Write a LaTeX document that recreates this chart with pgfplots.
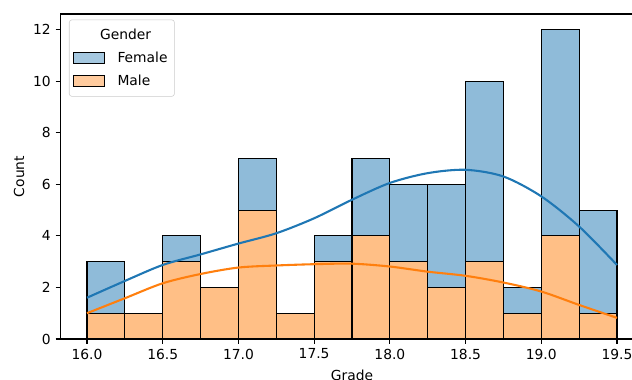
\documentclass[border=0pt]{standalone}
\usepackage{pgfplots}
\pgfplotsset{compat=1.18}
\usepackage{fontspec}
\setmainfont{DejaVu Sans}
\definecolor{fem}{HTML}{8FBBD9}
\definecolor{mal}{HTML}{FFBF86}
\definecolor{femline}{HTML}{1F77B4}
\definecolor{malline}{HTML}{FF7F0E}
\begin{document}
\begin{tikzpicture}
\begin{axis}[name=ax, scale only axis, width=419.76bp, height=234bp,
  xmin=15.825, xmax=19.675, ymin=0, ymax=12.6,
  xtick={16,16.5,17,17.5,18,18.5,19,19.5}, ytick={0,2,4,6,8,10,12},
  xticklabel style={/pgf/number format/.cd, fixed, fixed zerofill, precision=1},
  /pgf/number format/assume math mode=true,
  tick label style={font=\fontsize{10}{12}\selectfont},
  label style={font=\fontsize{10}{12}\selectfont},
  tick pos=left, tick align=outside, major tick length=3.5bp,
  every tick/.style={black, line width=0.8bp},
  axis line style={line width=0.8bp},
  xlabel={Grade}, ylabel={Count},
  every axis x label/.style={at={(axis description cs:0.5,0)}, anchor=north, inner sep=0pt, yshift=-22.3bp},
  every axis y label/.style={at={(axis description cs:-0.0712,0.5)}, anchor=center, rotate=90, inner sep=0pt},
  legend image code/.code={\draw[#1, sharp corners] (0bp,-4bp) rectangle (22bp,4bp); \path (29bp,0bp);},
  legend cell align=left,
  legend style={at={(0,1)}, anchor=north west, xshift=6.1bp, yshift=-4bp,
    draw=black!20, rounded corners=2bp, fill=white, fill opacity=0.8, text opacity=1,
    inner xsep=3bp, inner ysep=4.5bp, row sep=3.5bp,
    font=\fontsize{10}{12}\selectfont},
]
\addlegendimage{empty legend}\addlegendentry{\hspace{-12.5bp}Gender}
\addlegendimage{fill=fem, draw=black, line width=0.75bp}\addlegendentry{Female}
\addlegendimage{fill=mal, draw=black, line width=0.75bp}\addlegendentry{Male}

% total (stack top) -- Female drawn over Male
\addplot[forget plot, ybar, bar width=0.25, bar shift=0pt, fill=fem, draw=black, line width=0.75bp]
 coordinates {(16.125,3) (16.375,1) (16.625,4) (16.875,2) (17.125,7) (17.375,1) (17.625,4)
  (17.875,7) (18.125,6) (18.375,6) (18.625,10) (18.875,2) (19.125,12) (19.375,5)};
% Male
\addplot[forget plot, ybar, bar width=0.25, bar shift=0pt, fill=mal, draw=black, line width=0.75bp]
 coordinates {(16.125,1) (16.375,1) (16.625,3) (16.875,2) (17.125,5) (17.375,1) (17.625,3)
  (17.875,4) (18.125,3) (18.375,2) (18.625,3) (18.875,1) (19.125,4) (19.375,1)};
% KDE Female
\addplot[forget plot, smooth, femline, line width=1.5bp]
 coordinates {(16.0,1.60) (16.25,2.25) (16.5,2.87) (16.75,3.28) (17.0,3.70) (17.25,4.10)
  (17.5,4.68) (17.75,5.40) (18.0,6.05) (18.25,6.43) (18.5,6.56) (18.75,6.30) (19.0,5.53)
  (19.25,4.36) (19.5,2.87)};
% KDE Male
\addplot[forget plot, smooth, malline, line width=1.5bp]
 coordinates {(16.0,1.0) (16.25,1.58) (16.5,2.16) (16.75,2.52) (17.0,2.77) (17.25,2.85)
  (17.5,2.90) (17.75,2.92) (18.0,2.81) (18.25,2.61) (18.5,2.45) (18.75,2.19) (19.0,1.84)
  (19.25,1.32) (19.5,0.82)};
\end{axis}
\pgfresetboundingbox
\useasboundingbox ([xshift=-43.56bp, yshift=-29.52bp]ax.south west) rectangle ([xshift=411.48bp, yshift=244.08bp]ax.south west);
\end{tikzpicture}
\end{document}
